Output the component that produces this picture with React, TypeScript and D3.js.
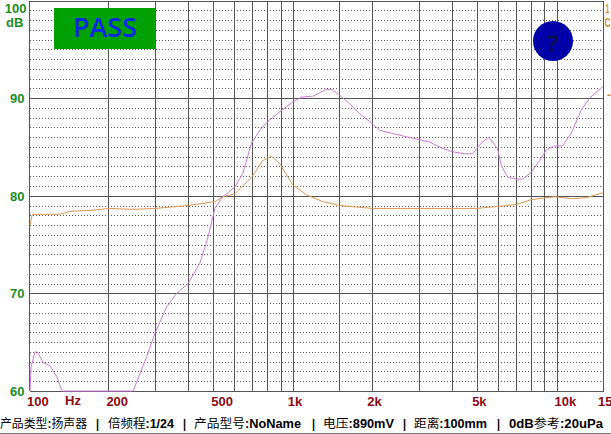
import React, { useEffect, useRef } from "react";
import * as d3 from "d3";

const width = 611;
const height = 434;

const magentaFreq = [100, 101, 104.5, 106.6, 112.3, 119, 126.2, 131.8, 133, 246, 276.7, 297.5, 329.5, 359.5, 397.7, 440.5, 473.6, 502, 538, 597.7, 641, 691.6, 743, 797, 885, 991, 1070, 1180, 1330, 1389, 1494, 1630, 1778, 1940, 2118, 2521, 3274, 3627, 4002, 4444, 4764, 5140, 5493, 5926, 6120, 6465, 6977, 7369, 7950, 8547, 9062, 9741, 10450, 11270, 12300, 13220, 14850];
const magentaDb = [60, 62.5, 64, 64, 62.9, 62.6, 61.5, 60.1, 60, 60, 63.5, 65.9, 68.6, 70, 71, 73.1, 75.8, 78.7, 79.9, 80.9, 82.3, 85.4, 86.7, 87.6, 88.6, 89.6, 90.1, 90.2, 90.9, 90.9, 90.3, 89.4, 88.4, 87.6, 86.7, 86.2, 85.5, 84.9, 84.5, 84.3, 84.3, 85.4, 86, 84.8, 83.1, 81.9, 81.7, 81.7, 82.4, 83.6, 84.7, 85.1, 85.1, 86.4, 88.8, 90, 91.2];

const orangeFreq = [100, 102, 112.3, 130, 141.7, 168.8, 200.4, 246, 297.5, 398, 502, 538, 598, 692, 763, 823, 885, 991, 1117, 1288, 1494, 1992, 3000, 4933, 5926, 6977, 7950, 9741, 11400, 12850, 14850];
const orangeDb = [77, 78.1, 78.1, 78.1, 78.4, 78.5, 78.7, 78.6, 78.7, 79, 79.4, 79.9, 80.2, 81.9, 83.6, 84.05, 83.3, 81.1, 80.1, 79.4, 79, 78.7, 78.7, 78.7, 78.9, 79.1, 79.6, 79.9, 79.7, 79.8, 80.3];

const freqGrid = [100, 200, 300, 400, 500, 600, 700, 800, 900, 1000, 1500, 2000, 3000, 4000, 5000, 6000, 7000, 8000, 9000, 10000, 15000];
const freqLabels: [number, string][] = [[100, "100"], [200, "200"], [500, "500"], [1000, "1k"], [2000, "2k"], [5000, "5k"], [10000, "10k"], [15000, "15"]];
const dbMajor = [60, 70, 80, 90, 100];
const dbMinor = d3.range(61, 100).filter(d => d % 10 !== 0);

const footer: [string, number, number][] = [
  ["产品类型:扬声器", 0, 87],
  ["|", 96, 3],
  ["倍频程:1/24", 108, 66],
  ["|", 183, 3],
  ["产品型号:NoName", 194, 107],
  ["|", 312, 3],
  ["电压:890mV", 323, 71],
  ["|", 403, 3],
  ["距离:100mm", 414, 73],
  ["|", 497, 3],
  ["0dB参考:20uPa", 509, 94],
];

const App: React.FC = () => {
  const ref = useRef<SVGSVGElement | null>(null);

  useEffect(() => {
    if (!ref.current) return;
    const svg = d3.select(ref.current);
    svg.selectAll("*").remove();

    const x = d3.scaleLog().domain([100, 15000]).range([30, 604]);
    const y = d3.scaleLinear().domain([60, 100]).range([391, 0.5]);

    svg.append("rect").attr("width", width).attr("height", height).attr("fill", "#fff");

    // Dotted 1 dB lines
    svg.append("g")
      .attr("shape-rendering", "crispEdges")
      .selectAll("line")
      .data(dbMinor)
      .enter()
      .append("line")
      .attr("x1", x(100))
      .attr("x2", x(15000))
      .attr("y1", d => Math.round(y(d)) + 0.5)
      .attr("y2", d => Math.round(y(d)) + 0.5)
      .attr("stroke", "#555")
      .attr("stroke-dasharray", "1,2");

    // Solid grid
    svg.append("g")
      .attr("shape-rendering", "crispEdges")
      .selectAll("line")
      .data(dbMajor)
      .enter()
      .append("line")
      .attr("x1", x(100))
      .attr("x2", x(15000))
      .attr("y1", d => Math.round(y(d)) + 0.5)
      .attr("y2", d => Math.round(y(d)) + 0.5)
      .attr("stroke", "#555");

    svg.append("g")
      .attr("shape-rendering", "crispEdges")
      .selectAll("line")
      .data(freqGrid)
      .enter()
      .append("line")
      .attr("x1", d => Math.round(x(d)) - 0.5)
      .attr("x2", d => Math.round(x(d)) - 0.5)
      .attr("y1", y(100))
      .attr("y2", y(60))
      .attr("stroke", "#555");

    // Curves
    const line = d3
      .line<[number, number]>()
      .x(d => x(d[0]))
      .y(d => y(d[1]));

    svg.append("path")
      .datum(d3.zip(orangeFreq, orangeDb) as [number, number][])
      .attr("fill", "none")
      .attr("stroke", "#dc9650")
      .attr("stroke-width", 1)
      .attr("d", line);

    svg.append("path")
      .datum(d3.zip(magentaFreq, magentaDb) as [number, number][])
      .attr("fill", "none")
      .attr("stroke", "#cc78dc")
      .attr("stroke-width", 1)
      .attr("d", line);

    const font = "'Liberation Sans', sans-serif";

    // dB labels
    svg.append("g")
      .selectAll("text")
      .data(dbMajor)
      .enter()
      .append("text")
      .attr("x", d => (d === 100 ? 26.5 : 24.5))
      .attr("y", d => (d === 100 ? 13 : y(d) + 5))
      .attr("text-anchor", "end")
      .attr("font-family", font)
      .attr("font-weight", "bold")
      .attr("font-size", 13)
      .attr("fill", "#1c8c24")
      .text(d => d);

    svg.append("text")
      .attr("x", 6)
      .attr("y", 27)
      .attr("font-family", font)
      .attr("font-weight", "bold")
      .attr("font-size", 13)
      .attr("fill", "#1c8c24")
      .text("dB");

    // Frequency labels
    svg.append("g")
      .selectAll("text")
      .data(freqLabels)
      .enter()
      .append("text")
      .attr("x", d => x(d[0]) - (d[1].length === 3 ? 3 : 6))
      .attr("y", 406)
      .attr("font-family", font)
      .attr("font-weight", "bold")
      .attr("font-size", 13)
      .attr("fill", "#8b0a14")
      .text(d => d[1]);

    svg.append("text")
      .attr("x", 65)
      .attr("y", 405)
      .attr("font-family", font)
      .attr("font-weight", "bold")
      .attr("font-size", 13)
      .attr("fill", "#8b0a14")
      .text("Hz");

    // Right-hand axis marks, as far as they show at the window edge
    svg.append("text").attr("x", 605.5).attr("y", 13).attr("font-family", font).attr("font-weight", "bold").attr("font-size", 13).attr("textLength", 4).attr("lengthAdjust", "spacingAndGlyphs").attr("fill", "#e08a1e").text("1");
    svg.append("text").attr("x", 604.5).attr("y", 27).attr("font-family", font).attr("font-weight", "bold").attr("font-size", 13).attr("textLength", 6).attr("lengthAdjust", "spacingAndGlyphs").attr("fill", "#e08a1e").text("C");
    svg.append("text").attr("x", 607).attr("y", 99).attr("font-family", font).attr("font-weight", "bold").attr("font-size", 12).attr("textLength", 4).attr("lengthAdjust", "spacingAndGlyphs").attr("fill", "#e08a1e").text("-");

    // PASS badge
    svg.append("rect").attr("x", 54).attr("y", 8).attr("width", 102).attr("height", 41).attr("fill", "#00a000");
    svg.append("text")
      .attr("x", 105)
      .attr("y", 37)
      .attr("text-anchor", "middle")
      .attr("font-family", "'Open Sans', sans-serif")
      .attr("font-weight", "600")
      .attr("font-size", 27)
      .attr("fill", "#0a28e4")
      .text("PASS");

    // Unknown-state marker
    svg.append("circle").attr("cx", 553).attr("cy", 41).attr("r", 20).attr("fill", "#0000a8");
    svg.append("text")
      .attr("x", 553)
      .attr("y", 52)
      .attr("text-anchor", "middle")
      .attr("font-family", "'Open Sans', sans-serif")
      .attr("font-weight", "bold")
      .attr("font-size", 23)
      .attr("fill", "#0c0c50")
      .text("?");

    // Footer
    const foot = svg.append("g")
      .selectAll("text")
      .data(footer)
      .enter()
      .append("text")
      .attr("x", d => d[1])
      .attr("y", 428)
      .attr("textLength", d => d[2])
      .attr("lengthAdjust", "spacingAndGlyphs")
      .attr("font-size", 12)
      .attr("fill", "#000");
    foot.each(function (d) {
      const parts = d[0].match(/[\u4e00-\u9fff]+|[^\u4e00-\u9fff]+/g) || [];
      parts.forEach(p => {
        const cjk = /[\u4e00-\u9fff]/.test(p);
        d3.select(this)
          .append("tspan")
          .attr("font-family", cjk ? "'Noto Sans CJK SC'" : font)
          .attr("font-weight", cjk ? "normal" : "bold")
          .text(p);
      });
    });

    svg.append("line").attr("x1", 0).attr("x2", width).attr("y1", 433.5).attr("y2", 433.5).attr("stroke", "#777");
  }, []);

  return (
    <svg
      ref={ref}
      width={width}
      height={height}
      style={{ position: "absolute", left: 0, top: 0, display: "block" }}
    />
  );
};

export default App;
